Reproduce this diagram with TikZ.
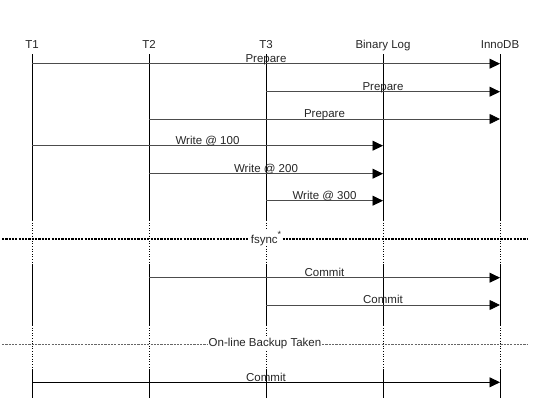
\documentclass[tikz,border=0pt]{standalone}
\usepackage{fontspec}
\setmainfont{Liberation Sans}
\usetikzlibrary{arrows.meta}
\begin{document}
\begin{tikzpicture}[x=1pt,y=-1pt,
  every node/.style={font=\fontsize{11.5}{13}\selectfont, inner sep=0pt, text=black!85},
  head/.style={anchor=base},
  msg/.style={draw=black!70, line width=0.8pt, -{Triangle[length=10.5pt,width=10pt,fill=black,color=black]}},
  msgdark/.style={msg, draw=black},
  msglabel/.style={anchor=base, fill=none},
  life/.style={draw=black, line width=0.8pt},
  lifedot/.style={draw=black, line width=0.8pt, dash pattern=on 1pt off 1.6pt},
  syncline/.style={draw=black, line width=1.1pt, dash pattern=on 2.2pt off 1.1pt},
  backline/.style={draw=black!60, line width=0.8pt, dash pattern=on 2.2pt off 1.1pt},
  barlabel/.style={fill=white, inner xsep=1pt, inner ysep=1pt}]
\useasboundingbox (0,0) rectangle (558,410);
% headers
\node[head] (hT1) at (32,48) {T1};
\node[head] (hT2) at (149,48) {T2};
\node[head] (hT3) at (266,48) {T3};
\node[head] (hBL) at (383,48) {Binary Log};
\node[head] (hIN) at (500,48) {InnoDB};
% lifeline tops and bottoms
\foreach \n/\x in {T1/32,T2/149,T3/266,BL/383,IN/500}{
  \coordinate (top\n) at (\x,54);
  \coordinate (a\n) at (\x,220);
  \coordinate (b\n) at (\x,265);
  \coordinate (c\n) at (\x,325);
  \coordinate (d\n) at (\x,370);
  \coordinate (bot\n) at (\x,398);
  \draw[life] (top\n) -- (a\n);
  \draw[lifedot] (a\n) -- (b\n);
  \draw[life] (b\n) -- (c\n);
  \draw[lifedot] (c\n) -- (d\n);
  \draw[life] (d\n) -- (bot\n);
}
% messages
\draw[msg] (topT1 |- 0,63.7) coordinate (m1a) -- (topIN |- 0,63.7) coordinate (m1b)
  node[msglabel, pos=0.5, yshift=1.2pt] (l1) {Prepare};
\draw[msg] (topT3 |- 0,91.7) coordinate (m2a) -- (topIN |- 0,91.7) coordinate (m2b)
  node[msglabel, pos=0.5, yshift=1.2pt] (l2) {Prepare};
\draw[msg] (topT2 |- 0,119) coordinate (m3a) -- (topIN |- 0,119) coordinate (m3b)
  node[msglabel, pos=0.5, yshift=1.2pt] (l3) {Prepare};
\draw[msg] (topT1 |- 0,145.7) coordinate (m4a) -- (topBL |- 0,145.7) coordinate (m4b)
  node[msglabel, pos=0.5, yshift=1.2pt] (l4) {Write @ 100};
\draw[msg] (topT2 |- 0,173.7) coordinate (m5a) -- (topBL |- 0,173.7) coordinate (m5b)
  node[msglabel, pos=0.5, yshift=1.2pt] (l5) {Write @ 200};
\draw[msg] (topT3 |- 0,200.7) coordinate (m6a) -- (topBL |- 0,200.7) coordinate (m6b)
  node[msglabel, pos=0.5, yshift=1.2pt] (l6) {Write @ 300};
% fsync bar
\coordinate (fsL) at (2,239);
\coordinate (fsR) at (527,239);
\draw[syncline] (fsL) -- (fsR);
\node[barlabel, anchor=base] (fs) at (266,243) {fsync\raisebox{6pt}{\fontsize{9}{9}\selectfont *}};
% commits
\draw[msg] (topT2 |- 0,277.7) coordinate (m7a) -- (topIN |- 0,277.7) coordinate (m7b)
  node[msglabel, pos=0.5, yshift=1.2pt] (l7) {Commit};
\draw[msg] (topT3 |- 0,305) coordinate (m8a) -- (topIN |- 0,305) coordinate (m8b)
  node[msglabel, pos=0.5, yshift=1.2pt] (l8) {Commit};
% backup bar
\coordinate (bkL) at (2,344);
\coordinate (bkR) at (527,344);
\draw[backline] (bkL) -- (bkR);
\node[barlabel, anchor=center] (bk) at (265,344) {On-line Backup Taken};
% final commit
\draw[msgdark] (topT1 |- 0,382.3) coordinate (m9a) -- (topIN |- 0,382.3) coordinate (m9b)
  node[msglabel, pos=0.5, yshift=1.2pt] (l9) {Commit};
\end{tikzpicture}
\end{document}
